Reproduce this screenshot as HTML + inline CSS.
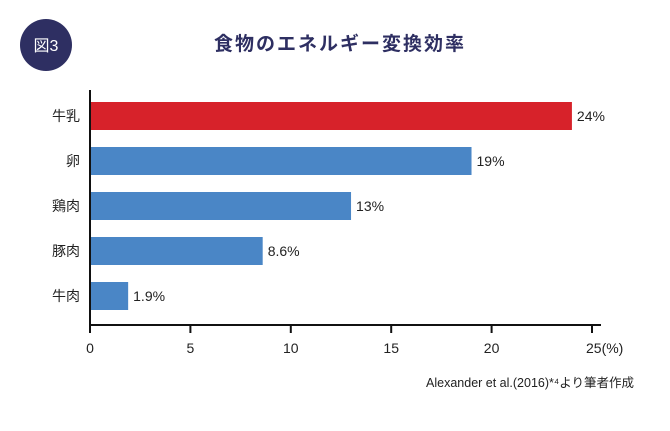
<!DOCTYPE html>
<html><head><meta charset="utf-8"><style>
body{margin:0;background:#fff;}
svg text{font-family:"Liberation Sans","Noto Sans CJK JP",sans-serif;}
</style></head><body>
<svg width="670" height="426" viewBox="0 0 670 426">
<circle cx="46" cy="45" r="26" fill="#2e2f62"/>
<text x="46" y="51" fill="#fff" font-size="16" text-anchor="middle">図3</text>
<text x="340" y="50" fill="#2e2f62" font-size="19" font-weight="bold" text-anchor="middle" letter-spacing="2">食物のエネルギー変換効率</text>
<g id="plot"></g>
<text x="634" y="387" fill="#222" font-size="12.5" text-anchor="end">Alexander et al.(2016)*⁴より筆者作成</text>
</svg>
<script>
const categories=["牛乳","卵","鶏肉","豚肉","牛肉"];
const values=[24,19,13,8.6,1.9];
const valueLabels=["24%","19%","13%","8.6%","1.9%"];
const ticks=[0,5,10,15,20,25];
const tickLabels=["0","5","10","15","20","25(%)"];
const ns="http://www.w3.org/2000/svg";
const g=document.getElementById('plot');
const x0=90,x1=592,xmax=25,yTop=102,step=45,bh=28,axisY=325;
const xs=v=>x0+(x1-x0)*v/xmax;
function mk(t,a){const e=document.createElementNS(ns,t);for(const k in a)e.setAttribute(k,a[k]);g.appendChild(e);return e;}
categories.forEach((c,i)=>{
 const y=yTop+i*step;
 const r=mk('rect',{x:x0,y:y,width:xs(values[i])-x0,height:bh,fill:i===0?'#d7222a':'#4a86c6'});
 
 
 const t=mk('text',{x:x0-10,y:y+bh/2+5,'font-size':14,'text-anchor':'end',fill:'#222'});t.textContent=c;
 
 
 const v=mk('text',{x:xs(values[i])+5,y:y+bh/2+5,'font-size':14,fill:'#222'});v.textContent=valueLabels[i];
 
 
});
const ya=mk('line',{x1:x0,y1:90,x2:x0,y2:axisY,stroke:'#111','stroke-width':2});


const xa=mk('line',{x1:x0-1,y1:axisY,x2:601,y2:axisY,stroke:'#111','stroke-width':2});


ticks.forEach((tv,i)=>{
 const x=xs(tv);
 const l=mk('line',{x1:x,y1:axisY,x2:x,y2:axisY+8,stroke:'#111','stroke-width':2});
 
 
 const t=mk('text',{x:i===ticks.length-1?x-6:x,y:axisY+28,'font-size':14,fill:'#222','text-anchor':i===ticks.length-1?'start':'middle'});
 t.textContent=tickLabels[i];
 
 
});
</script>
</body></html>
